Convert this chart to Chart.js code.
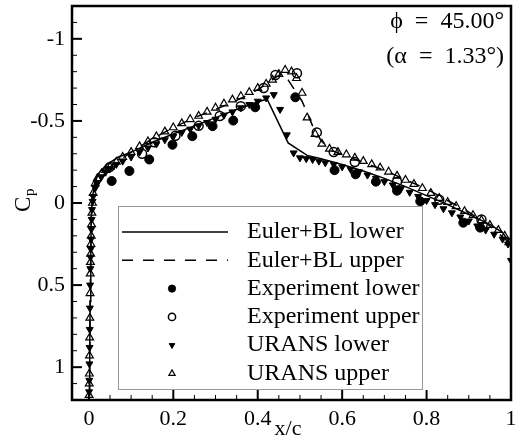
<!DOCTYPE html>
<html>
<head>
<meta charset="utf-8">
<title>Cp distribution</title>
<script src="https://cdn.jsdelivr.net/npm/chart.js@4.4.0/dist/chart.umd.min.js"></script>
<style>
  html, body { margin: 0; padding: 0; background: #fff; }
  #wrap { width: 518px; height: 440px; }
</style>
</head>
<body>
<div id="wrap"><canvas id="cpChart" width="518" height="440"></canvas></div>
<script>
"use strict";

// Axis ticks
const xTicks = [0, 0.2, 0.4, 0.6, 0.8, 1];
const cpTicks = [-1, -0.5, 0, 0.5, 1];

// Euler + boundary layer, lower surface
const eulerLowerX = [0.001, 0.002, 0.003, 0.0045, 0.006, 0.01, 0.02, 0.04, 0.07, 0.1, 0.15, 0.2, 0.25, 0.3, 0.35, 0.4, 0.422, 0.472, 0.517, 0.55, 0.6, 0.65, 0.7, 0.75, 0.8, 0.85, 0.9, 0.95, 0.98, 1.0];
const eulerLowerCp = [1.17, 0.9, 0.6, 0.3, 0.05, -0.06, -0.17, -0.23, -0.28, -0.31, -0.37, -0.42, -0.47, -0.52, -0.57, -0.615, -0.634, -0.366, -0.29, -0.27, -0.235, -0.195, -0.15, -0.1, -0.045, 0.01, 0.07, 0.13, 0.18, 0.25];

// Euler + boundary layer, upper surface
const eulerUpperX = [0.001, 0.002, 0.003, 0.0045, 0.006, 0.01, 0.02, 0.05, 0.1, 0.15, 0.2, 0.25, 0.3, 0.35, 0.4, 0.44, 0.458, 0.472, 0.505, 0.53, 0.55, 0.575, 0.62, 0.7, 0.8, 0.9, 0.95, 1.0];
const eulerUpperCp = [1.17, 0.9, 0.6, 0.3, 0.05, -0.09, -0.17, -0.22, -0.31, -0.39, -0.46, -0.52, -0.57, -0.625, -0.69, -0.76, -0.79, -0.75, -0.62, -0.47, -0.38, -0.32, -0.275, -0.2, -0.085, 0.055, 0.14, 0.25];

// Wind tunnel measurements
const expLowerX = [0.054, 0.096, 0.143, 0.198, 0.245, 0.293, 0.342, 0.394, 0.489, 0.582, 0.632, 0.68, 0.73, 0.785, 0.887, 0.927];
const expLowerCp = [-0.134, -0.195, -0.265, -0.355, -0.407, -0.468, -0.502, -0.583, -0.644, -0.2, -0.175, -0.13, -0.075, -0.01, 0.12, 0.15];
const expUpperX = [0.05, 0.126, 0.155, 0.205, 0.26, 0.31, 0.36, 0.414, 0.442, 0.493, 0.54, 0.58, 0.63, 0.73, 0.83, 0.93];
const expUpperCp = [-0.22, -0.3, -0.37, -0.41, -0.47, -0.53, -0.59, -0.7, -0.78, -0.79, -0.43, -0.31, -0.25, -0.13, -0.02, 0.1];

// URANS, lower surface
const uransLowerX = [0.0005, 0.0009, 0.0012, 0.0016, 0.002, 0.0024, 0.0029, 0.0034, 0.0039, 0.0045, 0.0051, 0.0058, 0.0066, 0.0075, 0.0088,
  0.01, 0.015, 0.02, 0.03, 0.04, 0.05, 0.065, 0.08, 0.1, 0.12, 0.14, 0.16, 0.18, 0.2, 0.22, 0.24, 0.26, 0.28, 0.3, 0.32, 0.34, 0.36, 0.38, 0.4, 0.42,
  0.438, 0.453, 0.469, 0.485, 0.5, 0.515, 0.53, 0.545, 0.56, 0.58, 0.6, 0.62, 0.64, 0.66, 0.68, 0.7, 0.72, 0.74, 0.76, 0.78, 0.8,
  0.82, 0.84, 0.86, 0.88, 0.9, 0.92, 0.94, 0.96, 0.98, 0.993, 1.0];
const uransLowerCp = [1.15, 1.08, 0.98, 0.88, 0.77, 0.64, 0.5, 0.4, 0.33, 0.28, 0.22, 0.16, 0.1, 0.04, -0.01,
  -0.04, -0.09, -0.12, -0.16, -0.19, -0.21, -0.235, -0.255, -0.28, -0.31, -0.335, -0.36, -0.385, -0.405, -0.43, -0.45, -0.47, -0.49, -0.51, -0.535, -0.555, -0.58, -0.6, -0.62, -0.64,
  -0.66, -0.57, -0.415, -0.305, -0.275, -0.27, -0.265, -0.255, -0.245, -0.235, -0.22, -0.205, -0.19, -0.17, -0.15, -0.13, -0.11, -0.09, -0.065, -0.04, -0.015,
  0.01, 0.035, 0.06, 0.085, 0.11, 0.14, 0.165, 0.19, 0.22, 0.25, 0.35];

// URANS, upper surface
const uransUpperX = [0.0005, 0.0008, 0.0011, 0.0014, 0.0018, 0.0022, 0.0027, 0.0032, 0.0037, 0.0042, 0.0048, 0.0055, 0.0063, 0.0072, 0.0085,
  0.01, 0.015, 0.02, 0.03, 0.04, 0.05, 0.065, 0.08, 0.1, 0.12, 0.14, 0.16, 0.18, 0.2, 0.22, 0.24, 0.26, 0.28, 0.3, 0.32, 0.34, 0.36, 0.38, 0.4, 0.42,
  0.435, 0.45, 0.465, 0.48, 0.492, 0.505, 0.517, 0.536, 0.552, 0.57,
  0.59, 0.61, 0.63, 0.65, 0.67, 0.69, 0.71, 0.73, 0.75, 0.77, 0.79, 0.81, 0.83, 0.85, 0.87, 0.89, 0.91, 0.93, 0.95, 0.97, 0.985, 0.995];
const uransUpperCp = [1.17, 1.1, 1.04, 0.93, 0.82, 0.7, 0.55, 0.43, 0.36, 0.31, 0.25, 0.2, 0.13, 0.06, 0.0,
  -0.06, -0.12, -0.15, -0.18, -0.2, -0.22, -0.25, -0.28, -0.31, -0.345, -0.375, -0.405, -0.435, -0.46, -0.485, -0.51, -0.53, -0.555, -0.58, -0.605, -0.63, -0.65, -0.675, -0.7, -0.725,
  -0.75, -0.785, -0.81, -0.8, -0.76, -0.67, -0.52, -0.42, -0.36, -0.33,
  -0.31, -0.295, -0.275, -0.255, -0.235, -0.215, -0.19, -0.165, -0.14, -0.115, -0.09, -0.06, -0.03, -0.005, 0.02, 0.05, 0.075, 0.105, 0.135, 0.165, 0.2, 0.24];

const SERIF = "'Liberation Serif', 'Times New Roman', serif";

function pts(xs, ys) {
  return xs.map((x, i) => ({ x: x, y: ys[i] }));
}

const datasets = [
  {
    label: "Euler+BL lower",
    data: pts(eulerLowerX, eulerLowerCp),
    showLine: true,
    borderColor: "#000",
    borderWidth: 1.5,
    pointRadius: 0,
  },
  {
    label: "Euler+BL upper",
    data: pts(eulerUpperX, eulerUpperCp),
    showLine: true,
    borderColor: "#000",
    borderWidth: 1.5,
    borderDash: [11, 10],
    pointRadius: 0,
  },
  {
    label: "Experiment lower",
    data: pts(expLowerX, expLowerCp),
    showLine: false,
    pointStyle: "circle",
    pointRadius: 4.5,
    pointBackgroundColor: "#000",
    pointBorderColor: "#000",
    pointBorderWidth: 1,
  },
  {
    label: "Experiment upper",
    data: pts(expUpperX, expUpperCp),
    showLine: false,
    pointStyle: "circle",
    pointRadius: 4.5,
    pointBackgroundColor: "rgba(255,255,255,0)",
    pointBorderColor: "#000",
    pointBorderWidth: 1.5,
  },
  {
    label: "URANS lower",
    data: pts(uransLowerX, uransLowerCp),
    showLine: false,
    pointStyle: "triangle",
    rotation: 180,
    pointRadius: 4,
    pointBackgroundColor: "#000",
    pointBorderColor: "#000",
    pointBorderWidth: 1,
  },
  {
    label: "URANS upper",
    data: pts(uransUpperX, uransUpperCp),
    showLine: false,
    pointStyle: "triangle",
    pointRadius: 4.5,
    pointBackgroundColor: "rgba(255,255,255,0)",
    pointBorderColor: "#000",
    pointBorderWidth: 1.2,
  },
];

// Inward tick marks, frame, axis titles and flow conditions
const framePlugin = {
  id: "frame",
  afterDraw(chart) {
    const { ctx, chartArea: a, scales } = chart;
    const xs = scales.x;
    const ys = scales.y;
    ctx.save();
    ctx.strokeStyle = "#000";
    ctx.lineCap = "butt";

    // y ticks every 0.1, major every 0.5
    for (let i = -12; i <= 12; i++) {
      const py = ys.getPixelForValue(i / 10);
      const major = i % 5 === 0;
      ctx.lineWidth = major ? 2 : 1;
      ctx.beginPath();
      ctx.moveTo(a.left, py);
      ctx.lineTo(a.left + (major ? 10 : 5), py);
      ctx.stroke();
    }
    // x ticks every 0.05, major every 0.2
    for (let i = 0; i <= 20; i++) {
      const px = xs.getPixelForValue(i / 20);
      const major = i % 4 === 0;
      ctx.lineWidth = major ? 2 : 1;
      ctx.beginPath();
      ctx.moveTo(px, a.bottom);
      ctx.lineTo(px, a.bottom - (major ? 10 : 5));
      ctx.stroke();
    }

    ctx.lineWidth = 2.5;
    ctx.strokeRect(a.left, a.top, a.right - a.left, a.bottom - a.top);

    ctx.fillStyle = "#000";
    // x/c
    ctx.font = "22px " + SERIF;
    ctx.textAlign = "center";
    ctx.textBaseline = "middle";
    ctx.fillText("x/c", 288, 429);

    // C_p, rotated
    ctx.save();
    ctx.translate(24, 204);
    ctx.rotate(-Math.PI / 2);
    ctx.textAlign = "left";
    ctx.font = "23px " + SERIF;
    ctx.fillText("C", -8, 0);
    ctx.font = "15px " + SERIF;
    ctx.fillText("p", 8, 6);
    ctx.restore();

    // flow conditions
    ctx.font = "24px " + SERIF;
    ctx.textAlign = "right";
    ctx.fillText("\u03d5\u2002=\u200245.00\u00b0", 504, 22);
    ctx.fillText("(\u03b1\u2002=\u20021.33\u00b0)", 504, 57);
    ctx.restore();
  },
};

// Boxed legend inside the plot area
const legendPlugin = {
  id: "boxLegend",
  afterDatasetsDraw(chart) {
    const ctx = chart.ctx;
    const box = { left: 118, top: 206, right: 422, bottom: 389 };
    ctx.save();
    ctx.fillStyle = "#fff";
    ctx.fillRect(box.left, box.top, box.right - box.left, box.bottom - box.top);
    ctx.strokeStyle = "#999";
    ctx.lineWidth = 1;
    ctx.strokeRect(box.left + 0.5, box.top + 0.5, box.right - box.left, box.bottom - box.top);

    const rowY0 = 232;
    const rowStep = 28.3;
    ctx.font = "24px " + SERIF;
    ctx.textAlign = "left";
    ctx.textBaseline = "middle";
    chart.data.datasets.forEach((ds, i) => {
      const y = rowY0 + i * rowStep;
      if (ds.showLine) {
        ctx.strokeStyle = ds.borderColor;
        ctx.lineWidth = ds.borderWidth;
        ctx.setLineDash(ds.borderDash || []);
        ctx.beginPath();
        ctx.moveTo(122, y);
        ctx.lineTo(228, y);
        ctx.stroke();
        ctx.setLineDash([]);
      } else {
        ctx.fillStyle = ds.pointBackgroundColor;
        ctx.strokeStyle = ds.pointBorderColor;
        ctx.lineWidth = ds.pointBorderWidth;
        Chart.helpers.drawPoint(ctx, {
          pointStyle: ds.pointStyle,
          rotation: ds.rotation || 0,
          radius: ds.pointRadius * 0.8,
          borderWidth: ds.pointBorderWidth,
        }, 172, y);
      }
      ctx.fillStyle = "#000";
      ctx.fillText(ds.label, 247, y);
    });
    ctx.restore();
  },
};

const ctx = document.getElementById("cpChart").getContext("2d");
const cpChart = new Chart(ctx, {
  type: "scatter",
  data: { datasets: datasets },
  plugins: [legendPlugin, framePlugin],
  options: {
    responsive: false,
    animation: false,
    devicePixelRatio: 1,
    layout: { padding: { left: 0, top: 5, right: 7, bottom: 0 } },
    plugins: {
      legend: { display: false },
      tooltip: { enabled: false },
    },
    scales: {
      x: {
        type: "linear",
        min: -0.04,
        max: 1,
        afterBuildTicks: (axis) => {
          axis.ticks = xTicks.map((v) => ({ value: v }));
        },
        afterFit: (axis) => {
          axis.height = 40;
          axis.paddingLeft = 0;
          axis.paddingRight = 0;
        },
        grid: { display: false, drawTicks: false },
        border: { display: false },
        ticks: {
          color: "#000",
          padding: 6,
          maxRotation: 0,
          font: { family: SERIF, size: 22 },
          callback: (v) => String(+v.toFixed(1)),
        },
      },
      y: {
        type: "linear",
        min: -1.2,
        max: 1.2,
        reverse: true,
        afterBuildTicks: (axis) => {
          axis.ticks = cpTicks.map((v) => ({ value: v }));
        },
        afterFit: (axis) => {
          axis.width = 72;
          axis.paddingTop = 0;
          axis.paddingBottom = 0;
        },
        grid: { display: false, drawTicks: false },
        border: { display: false },
        ticks: {
          color: "#000",
          padding: 7,
          font: { family: SERIF, size: 22 },
          callback: (v) => String(+v.toFixed(1)),
        },
      },
    },
  },
});
</script>
</body>
</html>
